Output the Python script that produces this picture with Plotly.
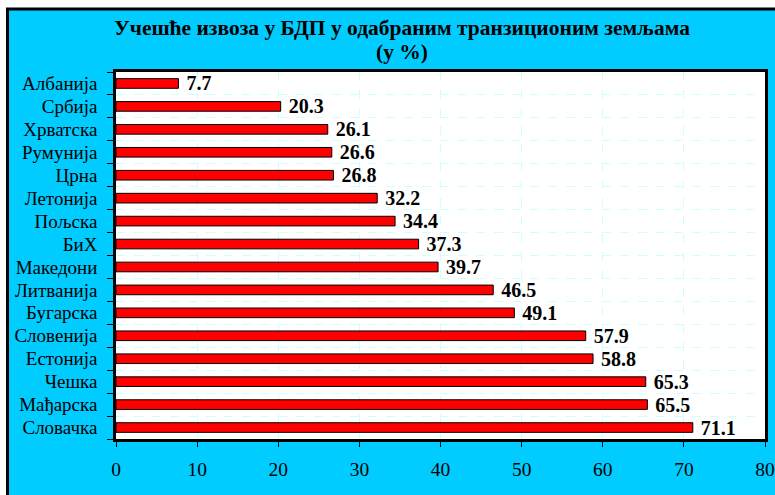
import plotly.graph_objects as go

countries = ["Албанија", "Србија", "Хрватска", "Румунија", "Црна", "Летонија", "Пољска",
             "БиХ", "Македони", "Литванија", "Бугарска", "Словенија", "Естонија", "Чешка",
             "Мађарска", "Словачка"]
values = [7.7, 20.3, 26.1, 26.6, 26.8, 32.2, 34.4, 37.3, 39.7, 46.5, 49.1, 57.9, 58.8, 65.3, 65.5, 71.1]
x_ticks = [0, 10, 20, 30, 40, 50, 60, 70, 80]
title_line1 = "Учешће извоза у БДП у одабраним транзиционим земљама"
title_line2 = "(у %)"

pos = list(range(len(countries)))
serif = "Liberation Serif, Times New Roman, serif"

fig = go.Figure(go.Bar(
    x=values, y=pos, orientation="h", width=0.42,
    marker=dict(color="#FF0000", line=dict(color="black", width=1)),
    text=[f" {v:.1f}" for v in values], textposition="outside", constraintext="none",
    textfont=dict(family=serif, size=20, color="black", weight="bold"),
    cliponaxis=False, showlegend=False,
))

L, R, T, B = 116, 10, 72, 56
W, H = 775, 495
pw = W - L - R
ph = H - T - B

def px_x(p):
    return (p - L) / pw

def px_y(p):
    return (H - B - p) / ph

title_font = dict(family=serif, size=21.5, color="black")

fig.update_layout(
    width=W, height=H,
    margin=dict(l=L, r=R, t=T, b=B, autoexpand=False),
    paper_bgcolor="white", plot_bgcolor="white",
    xaxis=dict(range=[0, 80], tickvals=x_ticks, showgrid=True, gridcolor="#CCFFFF",
               griddash="dash", gridwidth=1, zeroline=False, automargin=False,
               showline=True, linecolor="black", linewidth=2.5, mirror=True,
               ticks="outside", ticklen=5, tickcolor="black", ticklabelstandoff=6,
               tickfont=dict(family=serif, size=19.5, color="black")),
    yaxis=dict(range=[len(countries) - 0.5, -0.5], tickvals=pos, ticktext=countries,
               showgrid=False, zeroline=False, ticks="", automargin=False,
               showline=True, linecolor="black", linewidth=2.5, mirror=True,
               ticklabelstandoff=12,
               tickfont=dict(family=serif, size=19, color="black"),
               minor=dict(tick0=0.5, dtick=1, ticks="outside", ticklen=6, tickcolor="black",
                          showgrid=True, gridcolor="#CCFFFF", griddash="dash", gridwidth=1)),
    annotations=[
        dict(text=f"<b>{title_line1}</b>", xref="paper", yref="paper",
             x=px_x(401.5), y=px_y(28), xanchor="center", yanchor="middle",
             showarrow=False, font=title_font),
        dict(text=f"<b>{title_line2}</b>", xref="paper", yref="paper",
             x=px_x(401.5), y=px_y(52), xanchor="center", yanchor="middle",
             showarrow=False, font=title_font),
    ],
    shapes=[
        dict(type="rect", xref="paper", yref="paper", layer="below",
             x0=px_x(7.5), x1=px_x(W + 20), y0=px_y(H + 20), y1=px_y(9),
             fillcolor="#00CCFF", line=dict(color="black", width=3)),
        dict(type="rect", xref="paper", yref="paper", layer="below",
             x0=0, x1=1, y0=0, y1=1, fillcolor="white", line=dict(width=0)),
    ],
)

fig.write_html("out.html", config={"displayModeBar": False},
               post_script="document.body.style.margin='0px';")
